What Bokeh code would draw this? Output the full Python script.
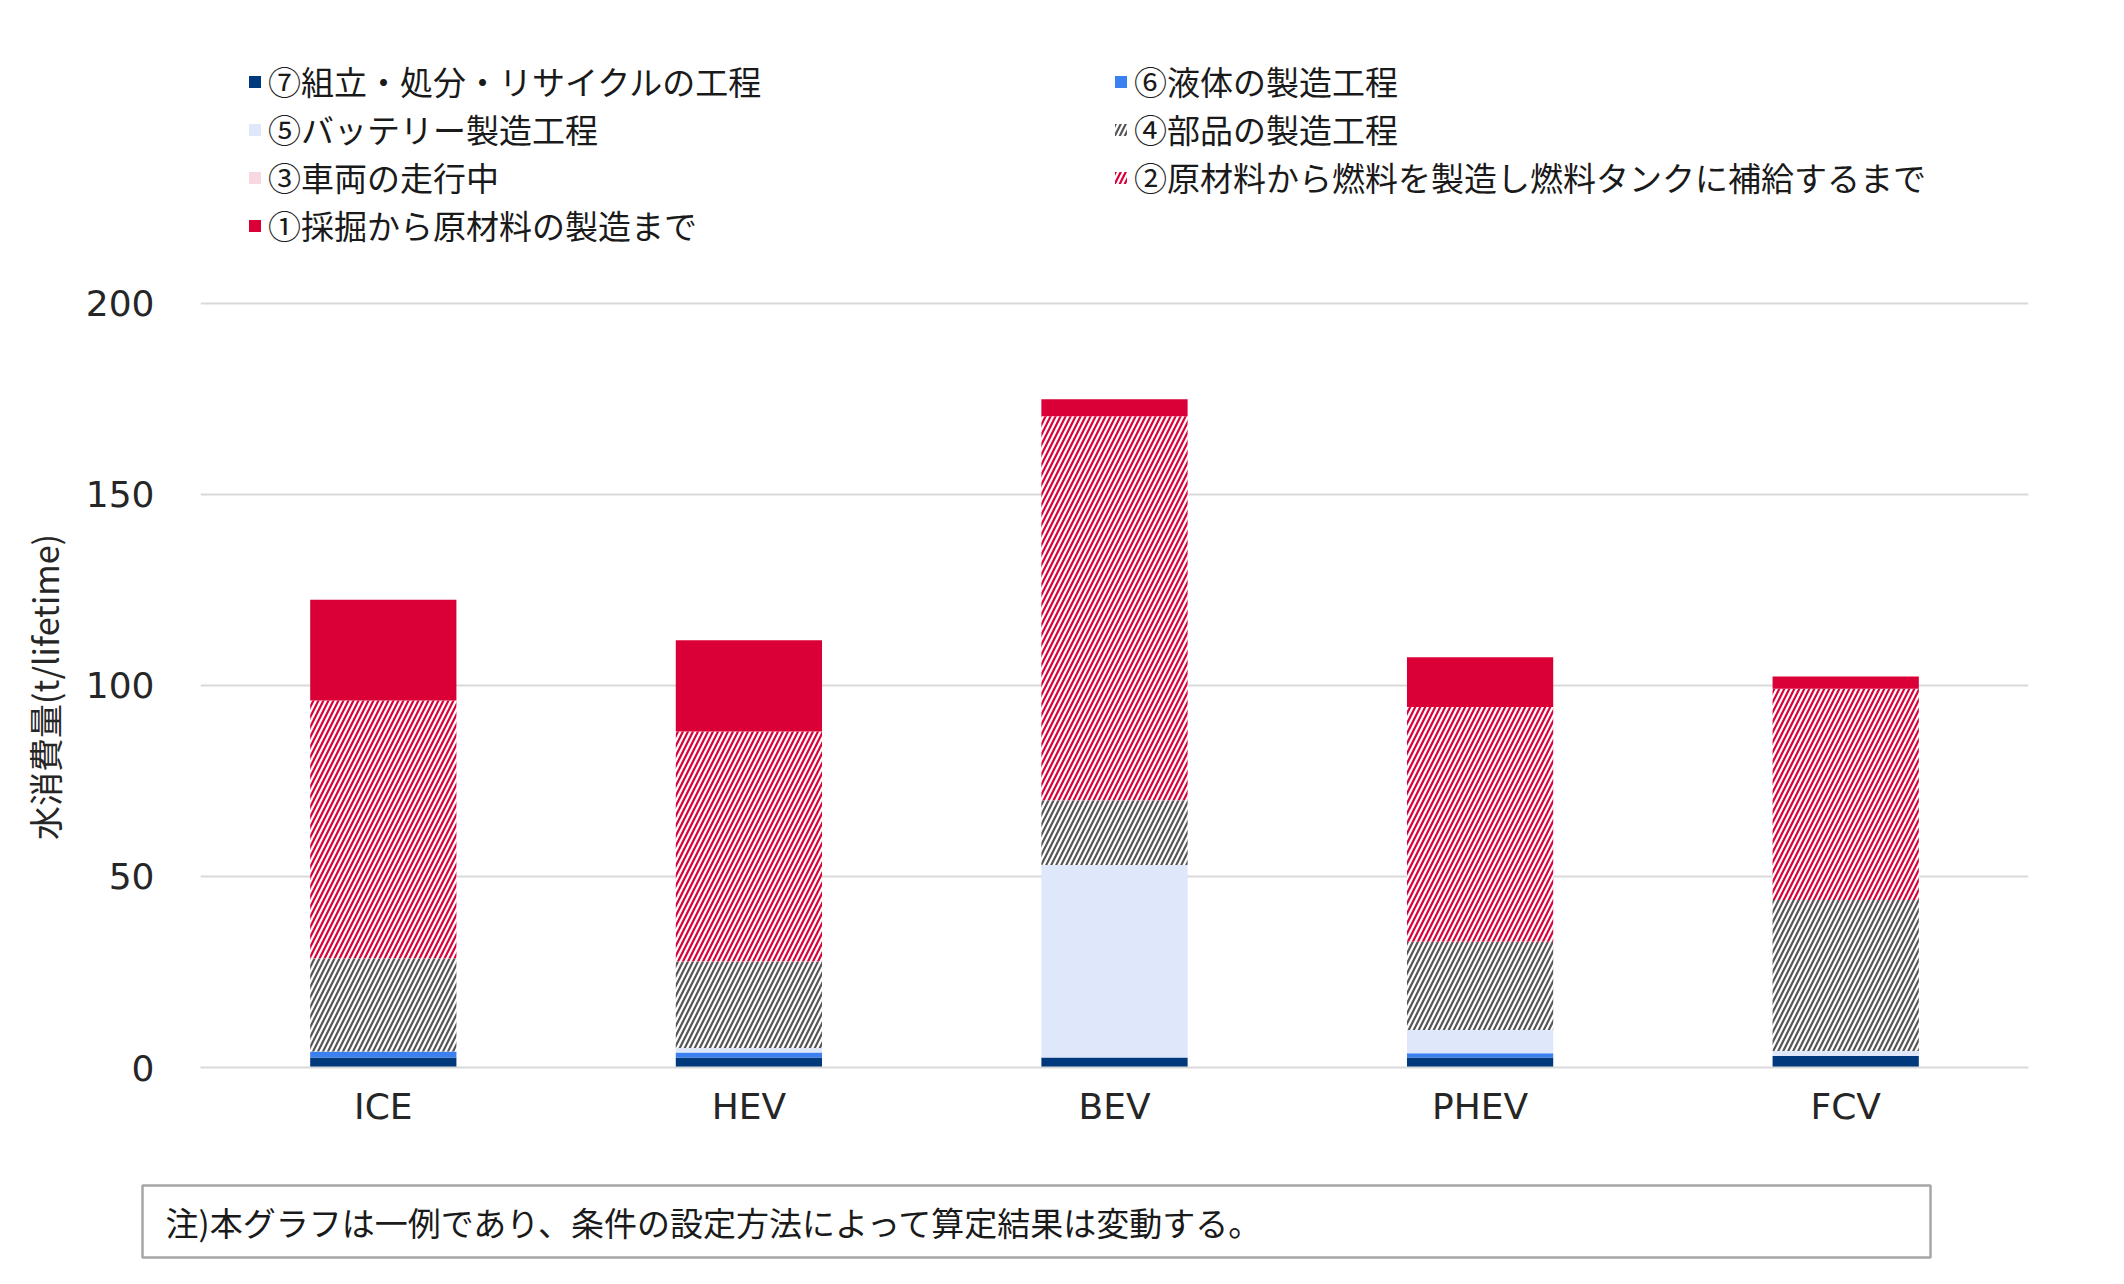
from bokeh.plotting import figure
from bokeh.layouts import column
from bokeh.models import (Legend, LegendItem, FactorRange, Range1d, FixedTicker,
                          BoxAnnotation, Label)
from bokeh.embed import file_html
from bokeh.resources import INLINE

vehicles = ["ICE", "HEV", "BEV", "PHEV", "FCV"]

# stacked components (t/lifetime), bottom to top
s7_assembly = [2.6, 2.6, 2.6, 2.6, 3.0]     # ⑦組立・処分・リサイクルの工程
s6_liquid = [1.6, 1.3, 0.0, 1.1, 0.0]       # ⑥液体の製造工程
s5_battery = [0.0, 1.2, 50.4, 6.1, 1.3]     # ⑤バッテリー製造工程
s4_parts = [24.4, 22.6, 16.9, 23.1, 39.5]   # ④部品の製造工程
s3_driving = [0.0, 0.0, 0.0, 0.0, 0.0]      # ③車両の走行中
s2_fuel = [67.4, 60.2, 100.5, 61.4, 55.3]   # ②原材料から燃料を製造し燃料タンクに補給するまで
s1_mining = [26.4, 23.9, 4.4, 13.0, 3.2]    # ①採掘から原材料の製造まで

labels = {
    "s7": "⑦組立・処分・リサイクルの工程",
    "s6": "⑥液体の製造工程",
    "s5": "⑤バッテリー製造工程",
    "s4": "④部品の製造工程",
    "s3": "③車両の走行中",
    "s2": "②原材料から燃料を製造し燃料タンクに補給するまで",
    "s1": "①採掘から原材料の製造まで",
}
y_ticks = [0, 50, 100, 150, 200]
y_title = "水消費量(t/lifetime)"
note_text = "注)本グラフは一例であり、条件の設定方法によって算定結果は変動する。"

data = dict(x=vehicles, s7=s7_assembly, s6=s6_liquid, s5=s5_battery,
            s4=s4_parts, s3=s3_driving, s2=s2_fuel, s1=s1_mining)

W = 2124
H_MAIN = 1140
H_NOTE = 1284 - H_MAIN
FRAME_H = 1067            # frame spans canvas top .. y=0 line
Y200 = 302.5              # pixel row of the 200 gridline
px_per_unit = (FRAME_H - Y200) / 200.0
y_top = 200 + Y200 / px_per_unit

p = figure(width=W, height=H_MAIN, x_range=FactorRange(*vehicles),
           y_range=Range1d(0, y_top),
           output_backend="svg", toolbar_location=None,
           min_border_left=200, min_border_right=96, min_border_top=0,
           min_border_bottom=H_MAIN - FRAME_H)
p.outline_line_color = None
p.background_fill_color = "white"
p.frame_align = False

keys = ["s7", "s6", "s5", "s4", "s3", "s2", "s1"]
fills = ["#003A7D", "#3A80F0", "#DFE8FA", "white", "#F8D8E0", "white", "#DA0037"]
hatches = [None, None, None, "/", None, "/", None]
hcolors = ["white", "white", "white", "#555555", "white", "#DA0037", "white"]

rs = p.vbar_stack(keys, x="x", width=0.4, source=data,
                  fill_color=fills, line_color=None,
                  hatch_pattern=hatches, hatch_color=hcolors,
                  hatch_scale=10, hatch_weight=2.2)
rmap = dict(zip(keys, rs))

font_jp = "Noto Sans CJK JP"
font_num = "DejaVu Sans"

p.yaxis.ticker = FixedTicker(ticks=y_ticks)
p.yaxis.bounds = (0, 200)
p.ygrid.ticker = FixedTicker(ticks=y_ticks)
p.ygrid.grid_line_color = "#D9D9D9"
p.ygrid.grid_line_width = 2
p.xgrid.grid_line_color = None

p.yaxis.axis_line_color = None
p.yaxis.major_tick_line_color = None
p.yaxis.minor_tick_line_color = None
p.yaxis.major_label_text_font = font_num
p.yaxis.major_label_text_font_size = "36px"
p.yaxis.major_label_text_color = "#262626"
p.yaxis.major_label_standoff = 40
# ideographic spaces keep the title centred on the 0-200 span rather than the whole frame
p.yaxis.axis_label = y_title + "\u3000" * 9
p.yaxis.axis_label_text_font = font_jp
p.yaxis.axis_label_text_font_size = "34px"
p.yaxis.axis_label_text_font_style = "normal"
p.yaxis.axis_label_text_color = "#262626"
p.yaxis.axis_label_standoff = 14

p.xaxis.axis_line_color = "#D9D9D9"
p.xaxis.axis_line_width = 2
p.xaxis.major_tick_line_color = None
p.xaxis.minor_tick_line_color = None
p.xaxis.major_label_text_font = font_num
p.xaxis.major_label_text_font_size = "36px"
p.xaxis.major_label_text_color = "#262626"
p.xaxis.major_label_standoff = 12


def make_legend(ks, loc):
    lg = Legend(items=[LegendItem(label=labels[k], renderers=[rmap[k]]) for k in ks],
                location=loc, orientation="vertical",
                label_text_font=font_jp, label_text_font_size="33px",
                label_text_color="#1a1a1a",
                glyph_width=15, glyph_height=15, label_standoff=6,
                label_height=40, spacing=0, padding=0, margin=0,
                border_line_color=None, background_fill_alpha=0)
    p.add_layout(lg)
    return lg


make_legend(["s7", "s5", "s3", "s1"], (47, 818))
make_legend(["s6", "s4", "s2"], (913, 866))

# note panel below the chart
p2 = figure(width=W, height=H_NOTE, x_range=Range1d(0, W), y_range=Range1d(0, H_NOTE),
            x_axis_type=None, y_axis_type=None, output_backend="svg",
            toolbar_location=None, min_border=0)
p2.frame_align = False
p2.outline_line_color = None
p2.xgrid.visible = False
p2.ygrid.visible = False
p2.add_layout(BoxAnnotation(left=142, right=1930, bottom=27, top=99,
                            fill_color="white", fill_alpha=1,
                            line_color="#A6A6A6", line_width=2.5, line_alpha=1))
p2.add_layout(Label(x=165, y=63, text=note_text, text_font=font_jp,
                    text_font_size="33px", text_color="#1a1a1a",
                    text_baseline="middle"))

layout = column(p, p2, spacing=0)
open("out.html", "w").write(file_html(layout, INLINE))
